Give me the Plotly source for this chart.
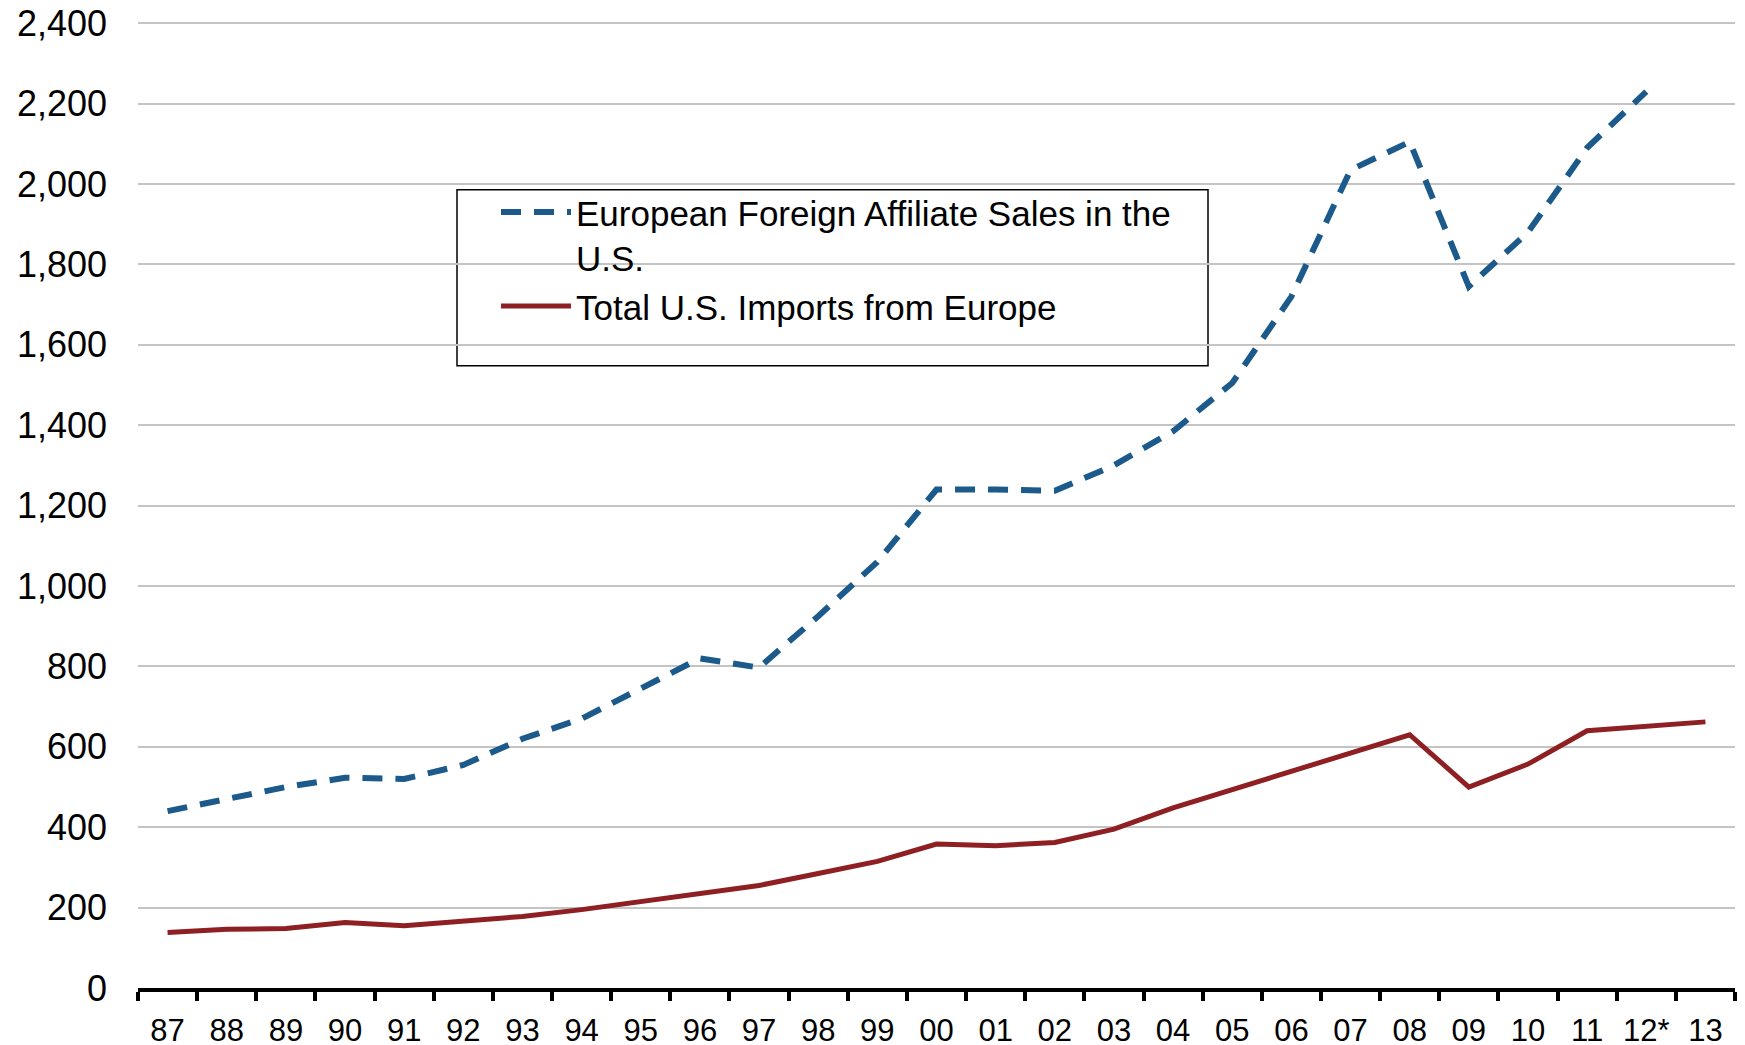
import plotly.graph_objects as go

years = ["87", "88", "89", "90", "91", "92", "93", "94", "95", "96", "97", "98", "99",
         "00", "01", "02", "03", "04", "05", "06", "07", "08", "09", "10", "11", "12*", "13"]

affiliate_sales = [440, 470, 500, 523, 520, 555, 620, 670, 745, 820, 797, 925, 1060,
                   1240, 1240, 1237, 1300, 1385, 1505, 1720, 2035, 2105, 1745, 1880, 2090, 2230, None]

us_imports = [138, 146, 148, 163, 155, 166, 178, 195, 215, 233, 255, 285, 315,
              358, 354, 362, 395, 448, 493, 540, 582, 630, 500, 557, 640, 650, 662]

y_ticks = [0, 200, 400, 600, 800, 1000, 1200, 1400, 1600, 1800, 2000, 2200, 2400]
y_tick_text = ["0", "200", "400", "600", "800", "1,000", "1,200", "1,400", "1,600",
               "1,800", "2,000", "2,200", "2,400"]

BLUE = "#1B5A8A"
RED = "#8E1F22"

fig = go.Figure()
fig.add_trace(go.Scatter(
    x=years, y=affiliate_sales, mode="lines",
    name="European Foreign Affiliate Sales in the<br>U.S.",
    line=dict(color=BLUE, width=6, dash="20px,13px"),
))
fig.add_trace(go.Scatter(
    x=years, y=us_imports, mode="lines",
    name="Total U.S. Imports from Europe",
    line=dict(color=RED, width=5),
))

W, H = 1745, 1045
L, R, T, B = 130, 18, 12, 65

def px_x(x):
    return (x - 137) / (1734 - 137)

def px_y(y):
    return (989 - y) / (989 - 20)

fig.update_layout(
    width=W, height=H,
    margin=dict(l=L, r=R, t=T, b=B, autoexpand=False),
    paper_bgcolor="white", plot_bgcolor="white",
    font=dict(family="Liberation Sans, Arial, sans-serif", color="black"),
    showlegend=True,
    legend=dict(
        x=px_x(495), y=px_y(183),
        xanchor="left", yanchor="top",
        bgcolor="rgba(0,0,0,0)", borderwidth=0,
        font=dict(size=35, color="black"),
        itemwidth=70, valign="top",
        tracegroupgap=4,
    ),
    shapes=[dict(
        type="rect", xref="paper", yref="paper",
        x0=px_x(456), x1=px_x(1207),
        y0=px_y(366), y1=px_y(190),
        line=dict(color="black", width=1.5), fillcolor="white", layer="below",
    )],
)

fig.update_xaxes(
    type="category", range=[-0.5, len(years) - 0.5],
    showline=True, linecolor="black", linewidth=3.5,
    ticks="outside", tickson="boundaries", ticklen=9, tickwidth=3.5, tickcolor="black",
    showgrid=False, zeroline=False, ticklabelstandoff=12, tickangle=0, automargin=False,
    tickfont=dict(size=31, color="black"),
)
fig.update_yaxes(
    range=[0, 2408], tickvals=y_ticks, ticktext=y_tick_text,
    showline=False, showgrid=True, gridcolor="#C4C4C4", gridwidth=1.5,
    zeroline=False, ticks="", ticklabelstandoff=30, automargin=False,
    ticklabeloverflow="allow",
    tickfont=dict(size=36, color="black"),
)

fig.write_html("out.html")
